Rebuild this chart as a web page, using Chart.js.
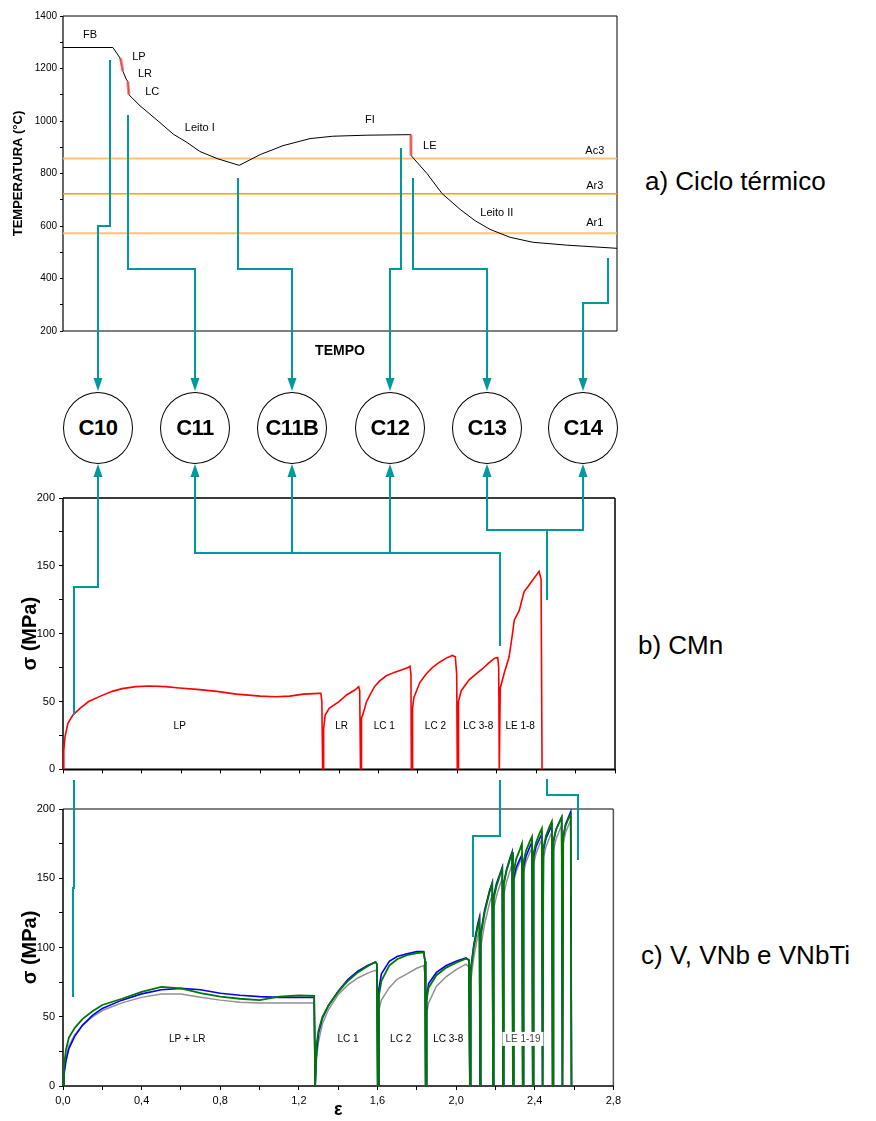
<!DOCTYPE html>
<html>
<head>
<meta charset="utf-8">
<script src="https://cdn.jsdelivr.net/npm/chart.js@4.4.1/dist/chart.umd.min.js"></script>
<style>
  body { margin: 0; background: #fff; width: 876px; height: 1121px; position: relative; overflow: hidden;
         font-family: 'Liberation Sans', Arial, sans-serif; }
  canvas.chart { position: absolute; left: 0; }
  #wires { position: absolute; left: 0; top: 0; pointer-events: none; z-index: 5; }
  .circ { position: absolute; width: 70px; height: 72px; border: 1.6px solid #000; border-radius: 50%;
          box-sizing: border-box; display: flex; align-items: center; justify-content: center;
          font-weight: bold; font-size: 22px; letter-spacing: -0.5px; background: #fff; z-index: 6; }
  .cap { position: absolute; font-size: 26px; line-height: 30px; color: #000; white-space: nowrap; }
</style>
</head>
<body>
<canvas id="cycle" class="chart" width="630" height="362" style="top:0"></canvas>
<canvas id="cmn" class="chart" width="625" height="300" style="top:480px"></canvas>
<canvas id="vnb" class="chart" width="625" height="331" style="top:790px"></canvas>
<canvas id="wires" width="876" height="1121"></canvas>

<div class="cap" style="left:645px;top:166px">a) Ciclo térmico</div>
<div class="cap" style="left:638px;top:630px">b) CMn</div>
<div class="cap" style="left:641px;top:940px">c) V, VNb e VNbTi</div>

<script>
// ---- a) thermal cycle (arbitrary time units 0..100) ----
const tempo = [0, 9.0, 10.3, 10.8, 11.4, 11.7, 11.9, 13.9, 17.5, 19.9, 22.4, 24.7, 27.8, 31.8,
  35.6, 39.7, 44.6, 48.7, 54.9, 62.6, 62.8, 62.85, 65.7, 68.4, 71.7, 74.4, 77.1, 80.7, 84.8, 91.0, 100];
const temperatura = [1280, 1280, 1240, 1190, 1160, 1150, 1100, 1058, 994, 950, 918, 884, 857, 831,
  872, 906, 933, 942, 946, 948, 948, 868, 800, 724, 663, 620, 587, 557, 538, 527, 515];
const lpTime = [10.4, 10.8];  const lpTemp = [1240, 1190];
const lcTime = [11.7, 11.9];  const lcTemp = [1150, 1100];
const leTime = [62.8, 62.8];  const leTemp = [948, 868];
const criticalNames = ['Ac3', 'Ar3', 'Ar1'];
const criticalTemps = [857, 723, 572];

// ---- b) CMn ----
const cmnStrain = [0, 0.004, 0.01, 0.025, 0.05, 0.086, 0.13, 0.19, 0.25, 0.3, 0.37, 0.44, 0.52, 0.59, 0.68, 0.78,
  0.88, 1.0, 1.08, 1.15, 1.22, 1.3, 1.308, 1.313, 1.317,
  1.321, 1.322, 1.33, 1.35, 1.4, 1.44, 1.48, 1.5, 1.505, 1.509,
  1.512, 1.514, 1.52, 1.54, 1.554, 1.58, 1.605, 1.64, 1.68, 1.72, 1.75, 1.76, 1.765, 1.767,
  1.771, 1.773, 1.78, 1.81, 1.84, 1.873, 1.91, 1.944, 1.975, 1.99, 1.997, 2.0,
  2.004, 2.006, 2.02, 2.06, 2.1, 2.127, 2.16, 2.19, 2.205, 2.21, 2.213,
  2.216, 2.218, 2.24, 2.263, 2.28, 2.289, 2.314, 2.339, 2.36, 2.38, 2.4, 2.415, 2.425, 2.43];
const cmnStress = [0, 14, 24, 34, 40, 45, 50, 54, 57.5, 59.5, 61, 61.5, 61, 60, 59, 57.5,
  55.5, 54, 53.5, 54, 55.5, 56, 56, 50, 0,
  0, 30, 40, 45, 50, 55, 58.5, 61, 58, 0,
  0, 38, 40, 50, 54, 61, 65, 69, 71.5, 73.5, 75, 76, 70, 0,
  0, 45, 53, 64, 70, 75, 79, 82, 84, 83, 70, 0,
  0, 50, 58, 66, 71, 74, 78.5, 82, 82.5, 75, 0,
  0, 60, 72, 83, 100, 110, 117, 131, 135, 139, 143, 146, 140, 0];

// ---- c) V (grey), VNb (blue), VNbTi (green) share the strain steps ----
const cStrain = [0, 0.005, 0.015, 0.03, 0.06, 0.1, 0.15, 0.2, 0.3, 0.4, 0.5, 0.6, 0.7, 0.8, 0.9, 1.0, 1.1, 1.2, 1.278, 1.283,
  1.287, 1.29, 1.3, 1.32, 1.35, 1.4, 1.45, 1.5, 1.55, 1.59, 1.597, 1.601,
  1.603, 1.607, 1.62, 1.66, 1.7, 1.75, 1.8, 1.835, 1.842, 1.845,
  1.847, 1.85, 1.86, 1.9, 1.95, 2.0, 2.05, 2.065, 2.07,
  2.072, 2.074, 2.09, 2.11, 2.119, 2.122,
  2.124, 2.126, 2.145, 2.17, 2.184, 2.188,
  2.19, 2.192, 2.205, 2.225, 2.235, 2.239,
  2.241, 2.243, 2.256, 2.275, 2.285, 2.289,
  2.291, 2.293, 2.306, 2.325, 2.335, 2.339,
  2.341, 2.343, 2.356, 2.376, 2.386, 2.39,
  2.392, 2.394, 2.407, 2.426, 2.436, 2.44,
  2.442, 2.444, 2.458, 2.477, 2.487, 2.491,
  2.493, 2.495, 2.508, 2.527, 2.537, 2.541,
  2.543, 2.545, 2.557, 2.574, 2.583, 2.587];
const vStress = [0, 10, 20, 29, 37, 44, 50, 54.5, 60, 64, 66.5, 66.5, 64, 62, 60.5, 60, 60, 60, 60, 0,
  0, 20, 32, 45, 55, 66, 73, 78, 81.5, 83.5, 82, 0,
  0, 55, 62, 71, 77, 81, 85, 87, 80, 0,
  0, 52, 60, 72, 79, 84, 88, 86, 0,
  0, 75, 93, 108, 112, 0,
  0, 100, 117, 132, 138, 0,
  0, 128, 137, 146, 150, 0,
  0, 138, 147, 156, 160, 0,
  0, 148, 155, 162, 165, 0,
  0, 154, 162, 169, 172, 0,
  0, 160, 168, 175, 178, 0,
  0, 165, 173, 180, 183, 0,
  0, 170, 178, 185, 188, 0,
  0, 175, 183, 189, 192, 0];
const vnbStress = [0, 8, 18, 27, 36, 44, 51, 56, 62, 66.5, 69.5, 70.5, 69.5, 67, 65.5, 64.5, 64, 64, 64, 0,
  0, 25, 38, 49, 58, 68.5, 77, 83, 87, 89.5, 88, 0,
  0, 70, 81, 90, 93.5, 95.5, 97, 97, 90, 0,
  0, 64, 74, 82, 87, 90, 92.5, 91, 0,
  0, 84, 102, 117, 122, 0,
  0, 110, 127, 141, 147, 0,
  0, 137, 146, 154, 158, 0,
  0, 146, 156, 165, 169, 0,
  0, 150, 158, 164, 167, 0,
  0, 158, 166, 173, 176, 0,
  0, 165, 173, 179, 182, 0,
  0, 170, 179, 185, 188, 0,
  0, 176, 185, 191, 194, 0,
  0, 180, 189, 195, 198, 0];
const vnbtiStress = [0, 14, 26, 35, 42, 48.5, 54, 58.5, 63, 68, 71.5, 70.5, 67, 64.5, 63, 62, 64.5, 65.5, 65, 0,
  0, 30, 40, 50, 58, 68, 76, 82, 86.5, 89.5, 88, 0,
  0, 65, 76, 87, 91.5, 94.5, 96, 96.5, 90, 0,
  0, 62, 71, 80, 85.5, 89, 92, 91, 0,
  0, 82, 100, 115, 120, 0,
  0, 108, 125, 140, 146, 0,
  0, 135, 144, 153, 157, 0,
  0, 145, 155, 164, 168, 0,
  0, 155, 164, 171, 175, 0,
  0, 162, 170, 177, 180, 0,
  0, 168, 176, 183, 186, 0,
  0, 172, 181, 188, 191, 0,
  0, 177, 185, 191, 194, 0,
  0, 180, 188, 194, 196, 0];

const FONT = "'Liberation Sans', Arial, sans-serif";
Chart.defaults.font.family = FONT;
Chart.defaults.color = '#000';

const pts = (xs, ys) => xs.map((x, i) => ({x: x, y: ys[i]}));

// frame around the plot area, each side styled separately
Chart.register({
  id: 'frame',
  beforeDatasetsDraw(chart, args, opts) {
    const a = chart.chartArea, ctx = chart.ctx;
    const seg = (s, x1, y1, x2, y2) => {
      if (!s) return;
      ctx.save();
      ctx.strokeStyle = s[0]; ctx.lineWidth = s[1];
      ctx.beginPath(); ctx.moveTo(x1, y1); ctx.lineTo(x2, y2); ctx.stroke();
      ctx.restore();
    };
    seg(opts.top, a.left, a.top, a.right, a.top);
    seg(opts.right, a.right, a.top, a.right, a.bottom);
    seg(opts.bottom, a.left, a.bottom, a.right, a.bottom);
    seg(opts.left, a.left, a.top, a.left, a.bottom);
  }
});

// text notes placed in data coordinates
Chart.register({
  id: 'notes',
  afterDatasetsDraw(chart, args, opts) {
    if (!opts.items) return;
    const ctx = chart.ctx, sx = chart.scales.x, sy = chart.scales.y;
    ctx.save();
    ctx.font = opts.font;
    ctx.textAlign = 'center';
    ctx.textBaseline = 'middle';
    opts.items.forEach(it => {
      const px = sx.getPixelForValue(it.x), py = sy.getPixelForValue(it.y);
      if (it.bg) {
        const w = ctx.measureText(it.text).width + 6;
        ctx.fillStyle = it.bg;
        ctx.fillRect(px - w / 2, py - 7, w, 14);
      }
      ctx.fillStyle = it.color || '#000';
      ctx.fillText(it.text, px, py);
    });
    ctx.restore();
  }
});

const fixW = w => s => { s.width = w; };
const fixH = h => s => { s.height = h; };

// ---------- a) Ciclo térmico ----------
// dataset 0 is painted last (on top) in Chart.js
const cycleSets = [];
[[lpTime, lpTemp], [lcTime, lcTemp], [leTime, leTemp]].forEach(s => cycleSets.push({
  data: pts(s[0], s[1]), borderColor: 'rgba(255,90,90,0.8)', borderWidth: 3, pointRadius: 0
}));
cycleSets.push({ data: pts(tempo, temperatura), borderColor: '#000', borderWidth: 1, pointRadius: 0 });
const critColors = ['rgba(255,190,100,0.9)', 'rgb(255,160,0)', 'rgba(255,190,100,0.9)'];
const critWidth = [2, 1.5, 2];
criticalTemps.forEach((t, i) => cycleSets.push({
  data: pts([0, 100], [t, t]), borderColor: critColors[i], borderWidth: critWidth[i], pointRadius: 0
}));

new Chart(document.getElementById('cycle'), {
  type: 'line',
  data: { datasets: cycleSets },
  options: {
    responsive: false, animation: false,
    layout: { padding: { top: 16, right: 13, left: 0, bottom: 0 } },
    plugins: {
      legend: { display: false }, tooltip: { enabled: false },
      frame: { top: ['#000', 1], right: ['#000', 1], bottom: ['#000', 1.2], left: ['#000', 1.2] },
      notes: {
        font: '11px ' + FONT,
        items: [
          { text: 'FB', x: 4.9, y: 1328 }, { text: 'LP', x: 13.7, y: 1244 }, { text: 'LR', x: 14.8, y: 1180 },
          { text: 'LC', x: 16.1, y: 1111 }, { text: 'Leito I', x: 24.7, y: 975 }, { text: 'FI', x: 55.4, y: 1005 },
          { text: 'LE', x: 66.2, y: 906 }, { text: 'Leito II', x: 78.3, y: 648 },
          { text: criticalNames[0], x: 96, y: 884 }, { text: criticalNames[1], x: 96, y: 751 },
          { text: criticalNames[2], x: 96, y: 610 }
        ]
      }
    },
    scales: {
      x: {
        type: 'linear', min: 0, max: 100,
        ticks: { display: false }, grid: { display: false }, border: { display: false },
        title: { display: true, text: 'TEMPO', font: { size: 14, weight: 'bold' }, padding: { bottom: 2 } },
        afterFit: fixH(31)
      },
      y: {
        min: 200, max: 1400,
        ticks: { stepSize: 100, autoSkip: false, font: { size: 10 }, padding: 3,
                 callback: v => (v % 200 === 0 ? v : '') },
        grid: { drawOnChartArea: false, tickLength: 3, color: '#000' },
        border: { display: false },
        title: { display: true, text: 'TEMPERATURA (°C)', font: { size: 13, weight: 'bold' }, padding: { top: 11 } },
        afterFit: fixW(63)
      }
    }
  }
});

// ---------- shared options for the stress-strain plots ----------
function stressScales(showLabels, xTitle, xHeight) {
  return {
    x: {
      type: 'linear', min: 0, max: 2.8,
      ticks: { stepSize: 0.2, autoSkip: false, font: { size: 11 }, padding: 4, maxRotation: 0,
               callback: v => (showLabels && Math.round(v * 10) % 4 === 0 ? v.toFixed(1).replace('.', ',') : '') },
      grid: { drawOnChartArea: false, tickLength: 4, color: '#000' },
      border: { display: false },
      title: { display: !!xTitle, text: xTitle || '', font: { size: 18, weight: 'bold' }, padding: 0 },
      afterFit: fixH(xHeight)
    },
    y: {
      min: 0, max: 200,
      ticks: { stepSize: 25, autoSkip: false, font: { size: 11 }, padding: 4,
               callback: v => (v % 50 === 0 ? v : '') },
      grid: { drawOnChartArea: false, tickLength: 4, color: '#000' },
      border: { display: false },
      title: { display: true, text: 'σ (MPa)', font: { size: 20, weight: 'bold' }, padding: { top: 18 } },
      afterFit: fixW(63)
    }
  };
}

// ---------- b) CMn ----------
new Chart(document.getElementById('cmn'), {
  type: 'line',
  data: { datasets: [{ data: pts(cmnStrain, cmnStress), borderColor: 'rgb(255,0,0)', borderWidth: 1.6, pointRadius: 0 }] },
  options: {
    responsive: false, animation: false,
    layout: { padding: { top: 18, right: 10, left: 0, bottom: 0 } },
    plugins: {
      legend: { display: false }, tooltip: { enabled: false },
      frame: { top: ['#3a3a3a', 2], right: ['#000', 1.5], bottom: ['#000', 2], left: ['#000', 1.5] },
      notes: {
        font: '10px ' + FONT,
        items: [
          { text: 'LP', x: 0.592, y: 31.8 }, { text: 'LR', x: 1.413, y: 31.8 }, { text: 'LC 1', x: 1.63, y: 31.8 },
          { text: 'LC 2', x: 1.889, y: 31.8 }, { text: 'LC 3-8', x: 2.106, y: 31.8 }, { text: 'LE 1-8', x: 2.319, y: 31.8 }
        ]
      }
    },
    scales: stressScales(false, '', 5)
  }
});

// ---------- c) V, VNb e VNbTi ----------
// green first so it is painted on top, grey last (underneath)
new Chart(document.getElementById('vnb'), {
  type: 'line',
  data: { datasets: [
    { data: pts(cStrain, vnbtiStress), borderColor: 'rgb(0,120,0)', borderWidth: 1.8, pointRadius: 0 },
    { data: pts(cStrain, vnbStress), borderColor: 'rgb(0,0,255)', borderWidth: 1.6, pointRadius: 0 },
    { data: pts(cStrain, vStress), borderColor: 'rgb(145,145,145)', borderWidth: 1.5, pointRadius: 0 }
  ] },
  options: {
    responsive: false, animation: false,
    layout: { padding: { top: 19, right: 9, left: 0, bottom: 0 } },
    plugins: {
      legend: { display: false }, tooltip: { enabled: false },
      frame: { top: ['#808080', 2], right: ['#555', 1.5], bottom: ['#000', 1.5], left: ['#000', 1.5] },
      notes: {
        font: '10px ' + FONT,
        items: [
          { text: 'LP + LR', x: 0.632, y: 34 }, { text: 'LC 1', x: 1.45, y: 34 }, { text: 'LC 2', x: 1.718, y: 34 },
          { text: 'LC 3-8', x: 1.96, y: 34 }, { text: 'LE 1-19', x: 2.34, y: 34, bg: '#fff', color: '#444' }
        ]
      }
    },
    scales: stressScales(true, 'ε', 35)
  }
});

// ---------- circles and teal connectors ----------
const circleNames = ['C10', 'C11', 'C11B', 'C12', 'C13', 'C14'];
const circleX = [98, 195, 292, 390, 487, 583];
circleNames.forEach((n, i) => {
  const d = document.createElement('div');
  d.className = 'circ';
  d.textContent = n;
  d.style.left = (circleX[i] - 35) + 'px';
  d.style.top = '392px';
  document.body.appendChild(d);
});

const wires = [
  [[110, 60], [110, 226], [98, 226], [98, 380]],
  [[128, 115], [128, 269], [195, 269], [195, 380]],
  [[238, 178], [238, 269], [292, 269], [292, 380]],
  [[401, 148], [401, 269], [390, 269], [390, 380]],
  [[413, 178], [413, 269], [487, 269], [487, 380]],
  [[608, 258], [608, 303], [583, 303], [583, 380]],
  [[98, 476], [98, 587], [74, 587], [74, 715]],
  [[195, 476], [195, 553], [500, 553], [500, 646]],
  [[292, 476], [292, 553]],
  [[390, 476], [390, 553]],
  [[487, 476], [487, 530], [583, 530], [583, 476]],
  [[547, 530], [547, 600]],
  [[74, 780], [74, 888], [73, 888], [73, 997]],
  [[500, 780], [500, 836], [473, 836], [473, 937]],
  [[547, 779], [547, 795], [578, 795], [578, 860]]
];
const wctx = document.getElementById('wires').getContext('2d');
wctx.strokeStyle = '#009a9a';
wctx.fillStyle = '#009a9a';
wctx.lineWidth = 2;
wires.forEach(w => {
  wctx.beginPath();
  w.forEach((p, i) => (i ? wctx.lineTo(p[0], p[1]) : wctx.moveTo(p[0], p[1])));
  wctx.stroke();
});
circleX.forEach(x => {
  // arrow into the top of the circle
  wctx.beginPath(); wctx.moveTo(x - 4.5, 378); wctx.lineTo(x + 4.5, 378); wctx.lineTo(x, 391); wctx.closePath(); wctx.fill();
  // arrow into the bottom of the circle
  wctx.beginPath(); wctx.moveTo(x - 4.5, 477); wctx.lineTo(x + 4.5, 477); wctx.lineTo(x, 464); wctx.closePath(); wctx.fill();
});
</script>
</body>
</html>
